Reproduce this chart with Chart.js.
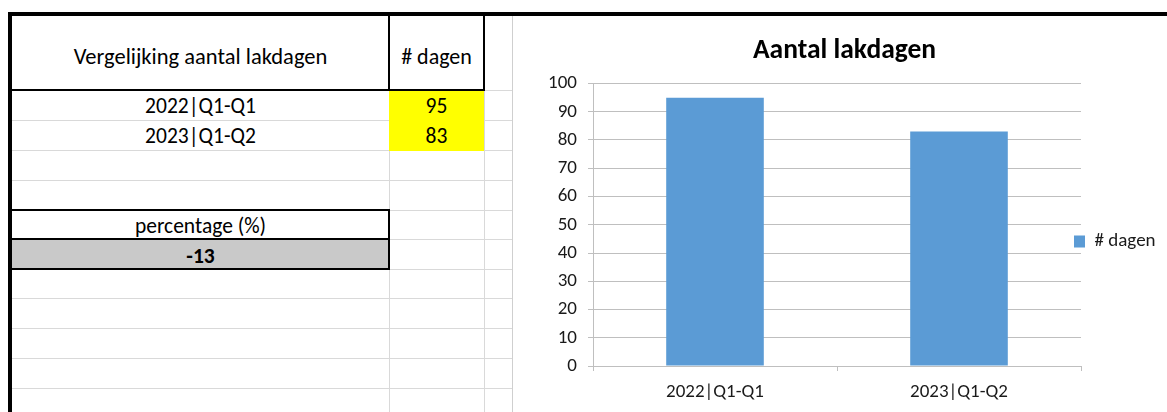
<!DOCTYPE html>
<html>
<head>
<meta charset="utf-8">
<title>Aantal lakdagen</title>
<script src="https://cdn.jsdelivr.net/npm/chart.js@4.4.1/dist/chart.umd.min.js"></script>
<style>
  html, body { margin: 0; padding: 0; background: #fff; }
  body {
    width: 1167px; height: 412px; overflow: hidden; position: relative;
    font-family: Carlito, Calibri, Lato, sans-serif; color: #000;
  }
  .ln { position: absolute; }
  .cell {
    position: absolute; display: flex; align-items: center; justify-content: center;
    box-sizing: border-box; font-size: 21.5px; white-space: nowrap;
  }
  #chartBox {
    position: absolute; left: 512px; top: 16px; width: 655px; height: 396px;
    background: #fff; border-left: 1px solid #cfcfcf; box-sizing: border-box;
  }
</style>
</head>
<body>
<div id="sheet"></div>
<div id="chartBox"><canvas id="chart-lakdagen"></canvas></div>

<script>
  // Gegevens uit het werkblad
  const categories = ['2022|Q1-Q1', '2023|Q1-Q2'];
  const dagen = [95, 83];
  const seriesLabel = '# dagen';
  const tableTitle = 'Vergelijking aantal lakdagen';
  const percentageLabel = 'percentage (%)';
  const percentage = -13;
  const chartTitle = 'Aantal lakdagen';
  const yMin = 0;
  const yMax = 100;
  const yStep = 10;

  const FONT = 'Carlito, Calibri, Lato, sans-serif';
  const GRID_SHEET = '#d9d9d9';
  const GRID_CHART = '#bfbfbf';
  const BAR_BLUE = '#5b9bd5';
  const TEXT = '#1a1a1a';

  // --- werkblad: rasterlijnen, vulling, randen, tekst ---
  const sheet = document.getElementById('sheet');

  function box(x, y, w, h, color) {
    const d = document.createElement('div');
    d.className = 'ln';
    d.style.cssText = `left:${x}px;top:${y}px;width:${w}px;height:${h}px;background:${color}`;
    sheet.appendChild(d);
  }

  function cell(x, y, w, h, text, extra) {
    const d = document.createElement('div');
    d.className = 'cell';
    d.style.cssText = `left:${x}px;top:${y}px;width:${w}px;height:${h}px;${extra || ''}`;
    d.textContent = text;
    sheet.appendChild(d);
  }

  const rowLines = [120, 150, 180, 210, 239, 269, 298, 328, 358, 388];
  rowLines.forEach((y) => box(12, y, 501, 1, GRID_SHEET));
  box(12, 90, 501, 1, GRID_SHEET);
  box(389, 90, 1, 322, GRID_SHEET);
  box(484, 90, 1, 322, GRID_SHEET);
  box(513, 16, 1, 396, GRID_SHEET);

  // gele cellen met het aantal dagen, grijze cel met het percentage
  box(389, 91, 95, 60, '#ffff00');
  box(12, 239, 377, 30, '#c9c9c9');

  // zwarte randen
  box(8, 12, 1159, 4, '#000');
  box(8, 12, 4, 400, '#000');
  box(12, 89, 473, 2, '#000');
  box(388, 16, 2, 74, '#000');
  box(483, 16, 2, 74, '#000');
  box(12, 209, 378, 2, '#000');
  box(12, 238, 378, 2, '#000');
  box(12, 268, 378, 2, '#000');
  box(388, 209, 2, 61, '#000');

  cell(12, 16, 377, 74, tableTitle, 'padding-top:7px;font-size:22.5px');
  cell(389, 16, 95, 74, seriesLabel, 'padding-top:7px;font-size:22px');
  categories.forEach((label, i) => {
    const y = 90 + i * 30;
    cell(12, y, 377, 30, label, 'padding-top:2px');
    cell(389, y, 95, 30, String(dagen[i]), 'padding-top:2px');
  });
  cell(12, 210, 377, 29, percentageLabel, 'padding-top:2px');
  cell(12, 239, 377, 30, String(percentage), 'padding-top:4px;font-weight:bold');

  // --- grafiek ---
  Chart.defaults.font.family = FONT;
  Chart.defaults.color = TEXT;

  // Excel zet het legendablokje iets over de rechterrand van het raster heen.
  // De legenda knipt op zijn eigen kader, dus de rechterrand blijft op de canvasrand.
  const LEGEND_BOX_X = 561;
  const LEGEND_MID_Y = 225.5;
  const legendNudge = {
    id: 'legendNudge',
    afterUpdate(chart) { chart.$legendNudged = false; },
    beforeDraw(chart) {
      const legend = chart.legend;
      if (!legend || chart.$legendNudged || !legend.legendHitBoxes.length) return;
      const hit = legend.legendHitBoxes[0];
      const dx = LEGEND_BOX_X - hit.left;
      const dy = LEGEND_MID_Y - (hit.top + hit.height / 2);
      legend.left += dx;
      legend.right = chart.width;
      legend.top += dy;
      legend.bottom += dy;
      chart.$legendNudged = true;
    },
  };

  new Chart(document.getElementById('chart-lakdagen'), {
    type: 'bar',
    data: {
      labels: categories,
      datasets: [{
        label: seriesLabel,
        data: dagen,
        backgroundColor: BAR_BLUE,
        borderWidth: 0,
        categoryPercentage: 1,
        barPercentage: 0.4,
      }],
    },
    options: {
      responsive: true,
      maintainAspectRatio: false,
      animation: false,
      layout: { padding: { left: 9, right: 0, top: 0, bottom: 0 } },
      plugins: {
        title: {
          display: true,
          text: chartTitle,
          color: '#000',
          font: { size: 27.5, weight: 'bold' },
          padding: { top: 19, bottom: 15.5 },
        },
        legend: {
          position: 'right',
          maxWidth: 86,
          labels: {
            boxWidth: 11,
            boxHeight: 12,
            color: TEXT,
            font: { size: 19 },
          },
        },
        tooltip: { enabled: false },
      },
      scales: {
        x: {
          afterFit: (scale) => { scale.height = 46; },
          grid: {
            display: true,
            drawOnChartArea: false,
            drawTicks: true,
            tickLength: 5,
            offset: true,
            color: GRID_CHART,
          },
          border: { color: GRID_CHART },
          ticks: { color: TEXT, font: { size: 19 }, padding: 10 },
        },
        y: {
          min: yMin,
          max: yMax,
          afterFit: (scale) => { scale.width = 71; },
          grid: { color: GRID_CHART, tickLength: 5 },
          border: { color: GRID_CHART },
          ticks: { stepSize: yStep, color: TEXT, font: { size: 19 }, padding: 11 },
        },
      },
    },
    plugins: [legendNudge],
  });
</script>
</body>
</html>
